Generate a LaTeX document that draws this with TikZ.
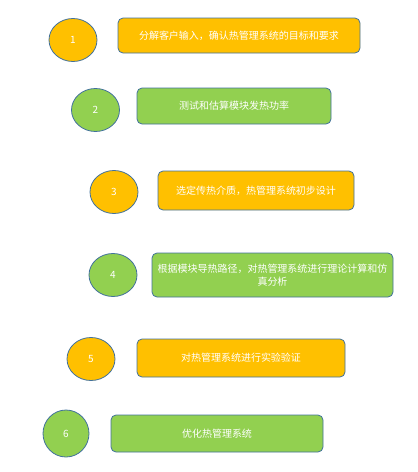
\documentclass[tikz,border=0pt]{standalone}
\usepackage{fontspec}
\setmainfont{Noto Sans CJK SC}
\usetikzlibrary{shapes, positioning}
\definecolor{stepyellow}{HTML}{FFC000}
\definecolor{stepgreen}{HTML}{92D050}
\definecolor{stepline}{HTML}{41719C}
\tikzstyle{num}=[draw=stepline, ellipse, text=white, line width=.8pt,
  minimum width=48pt, minimum height=43pt, inner sep=0pt]
\tikzstyle{task}=[draw=stepline, rectangle, rounded corners=5pt, text=white,
  line width=.8pt, align=center]
\tikzstyle{every node}=[font=\fontsize{10}{13}\selectfont]

\begin{document}
\begin{tikzpicture}[x=1pt, y=-1pt]
    \useasboundingbox (0,0) rectangle (418,472);
    % steps
    \node[num, fill=stepyellow] (n1) at (73,40) {1};
    \node[task, fill=stepyellow, minimum width=242pt, minimum height=35pt] (t1) at (239,35.5) {分解客户输入，确认热管理系统的目标和要求};
    \node[num, fill=stepgreen] (n2) at (95.5,110) {2};
    \node[task, fill=stepgreen, minimum width=194pt, minimum height=36pt] (t2) at (234,106) {测试和估算模块发热功率};
    \node[num, fill=stepyellow] (n3) at (114,192) {3};
    \node[task, fill=stepyellow, minimum width=196pt, minimum height=39pt] (t3) at (256,190.5) {选定传热介质，热管理系统初步设计};
    \node[num, fill=stepgreen] (n4) at (113,275) {4};
    \node[task, fill=stepgreen, minimum width=241pt, minimum height=44pt] (t4) at (272.5,275) {根据模块导热路径，对热管理系统进行理论计算和仿\\真分析};
    \node[num, fill=stepyellow] (n5) at (91,359) {5};
    \node[task, fill=stepyellow, minimum width=208pt, minimum height=38pt] (t5) at (241,358) {对热管理系统进行实验验证};
    \node[num, fill=stepgreen, minimum width=46pt, minimum height=47pt] (n6) at (66,433.5) {6};
    \node[task, fill=stepgreen, minimum width=212pt, minimum height=37pt] (t6) at (217,433.5) {优化热管理系统};
\end{tikzpicture}
\end{document}
